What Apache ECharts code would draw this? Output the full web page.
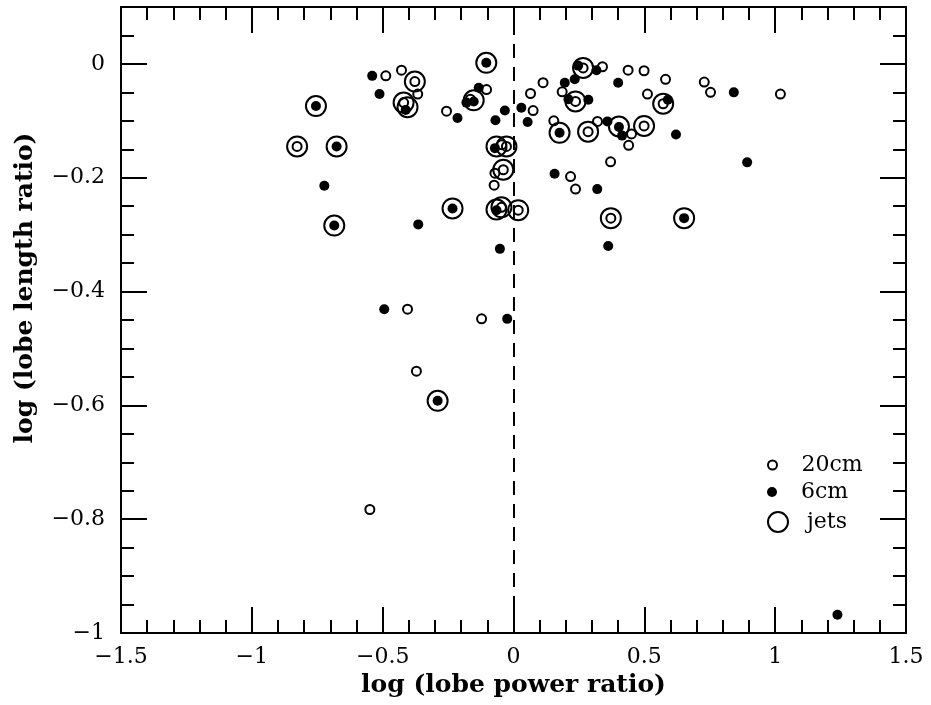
<!DOCTYPE html>
<html>
<head>
<meta charset="utf-8">
<script src="https://cdn.jsdelivr.net/npm/echarts@6/dist/echarts.min.js"></script>
<style>html,body{margin:0;padding:0;background:#fff}#c{width:931px;height:705px}</style>
</head>
<body>
<div id="c"></div>
<script>
// log(lobe power ratio), log(lobe length ratio)
const pts20cm = [
  [-0.549,-0.783],[-0.405,-0.431],[-0.371,-0.540],[-0.122,-0.448],
  [-0.488,-0.021],[-0.428,-0.011],[-0.377,-0.031],[-0.366,-0.053],[-0.420,-0.068],
  [-0.256,-0.083],[-0.103,-0.045],[-0.165,-0.062],[-0.827,-0.145],
  [-0.045,-0.142],[-0.027,-0.145],[-0.039,-0.186],[-0.071,-0.192],[-0.074,-0.213],
  [-0.046,-0.252],[0.018,-0.257],
  [0.266,-0.007],[0.340,-0.005],[0.438,-0.011],[0.499,-0.012],[0.581,-0.027],
  [0.729,-0.032],[0.753,-0.050],[1.020,-0.053],[0.113,-0.033],[0.065,-0.052],
  [0.186,-0.049],[0.237,-0.066],[0.512,-0.053],[0.572,-0.070],[0.075,-0.082],
  [0.154,-0.100],[0.285,-0.119],[0.321,-0.101],[0.451,-0.123],[0.499,-0.109],
  [0.440,-0.143],[0.371,-0.172],[0.218,-0.198],[0.237,-0.220],[0.372,-0.271]
];
const pts6cm = [
  [-0.540,-0.021],[-0.512,-0.053],[-0.755,-0.074],[-0.676,-0.145],[-0.723,-0.214],
  [-0.685,-0.284],[-0.364,-0.282],[-0.412,-0.081],[-0.214,-0.095],[-0.133,-0.042],
  [-0.180,-0.068],[-0.152,-0.066],[-0.104,0.002],[-0.033,-0.082],[-0.069,-0.099],
  [-0.071,-0.148],[-0.065,-0.257],[-0.233,-0.254],[-0.052,-0.325],[-0.494,-0.431],
  [-0.024,-0.448],[-0.290,-0.592],
  [0.030,-0.077],[0.054,-0.102],[0.247,-0.003],[0.317,-0.011],[0.400,-0.033],
  [0.234,-0.027],[0.196,-0.033],[0.210,-0.062],[0.286,-0.063],[0.590,-0.063],
  [0.842,-0.050],[0.176,-0.121],[0.359,-0.101],[0.403,-0.111],[0.415,-0.126],
  [0.621,-0.124],[0.893,-0.173],[0.157,-0.193],[0.320,-0.220],[0.652,-0.271],
  [0.362,-0.320],[1.238,-0.968]
];
const ptsJets = [
  [-0.755,-0.074],[-0.827,-0.145],[-0.676,-0.145],[-0.685,-0.284],[-0.377,-0.031],
  [-0.420,-0.068],[-0.405,-0.076],[-0.152,-0.064],[-0.104,0.002],[-0.065,-0.145],
  [-0.027,-0.145],[-0.039,-0.186],[-0.065,-0.256],[-0.046,-0.252],[0.018,-0.257],
  [-0.233,-0.254],[-0.290,-0.592],[0.266,-0.007],[0.237,-0.066],[0.572,-0.070],
  [0.176,-0.121],[0.285,-0.119],[0.403,-0.110],[0.499,-0.109],[0.372,-0.271],
  [0.652,-0.271]
];
const xTicks = [-1.5,-1,-0.5,0,0.5,1,1.5];
const yTicks = [-1,-0.8,-0.6,-0.4,-0.2,0];
const xName = 'log (lobe power ratio)';
const yName = 'log (lobe length ratio)';
const legendNames = ['20cm','6cm','jets'];

const FONT = 'DejaVu Serif';
const fmt = v => {
  const r = Math.round(v*1000)/1000;
  return String(r).replace('-', '\u2212');
};
const lineStyle = {color:'#000', width:2};
function xAxisDef(pos, labels) {
  return {
    type:'value', position:pos, min:xTicks[0], max:xTicks[xTicks.length-1], interval:0.5,
    axisLine:{show:true, onZero:false, lineStyle},
    axisTick:{show:true, inside:true, length:26, lineStyle},
    minorTick:{show:true, splitNumber:5, length:13, lineStyle},
    splitLine:{show:false}, minorSplitLine:{show:false},
    axisLabel:{show:labels, margin:13, fontFamily:FONT, fontSize:22, color:'#000', formatter:fmt},
    name: labels ? xName : '', nameLocation:'middle', nameGap:37,
    nameTextStyle:{fontFamily:FONT, fontSize:25, fontWeight:'bold', color:'#000'}
  };
}
function yAxisDef(pos, major, labels) {
  return {
    type:'value', position:pos, min:yTicks[0], max:0.1, interval: major ? 0.2 : 0.05,
    axisLine:{show:major, onZero:false, lineStyle},
    axisTick:{show:true, inside:true, length: major ? 26 : 13, lineStyle},
    splitLine:{show:false},
    axisLabel:{show:labels, showMaxLabel:false, margin:16, fontFamily:FONT, fontSize:22, color:'#000',
      formatter: v => (Math.abs(v) < 0.0001 ? '0' : (v > 0.05 ? '' : fmt(v)))},
    name: labels ? yName : '', nameLocation:'middle', nameGap:83,
    nameTextStyle:{fontFamily:FONT, fontSize:25, fontWeight:'bold', color:'#000', padding:[0,0,0,64]}
  };
}
const chart = echarts.init(document.getElementById('c'));
const openStyle = {color:'rgba(0,0,0,0)', borderColor:'#000', borderWidth:2, opacity:1};
const legText = {fontFamily:FONT, fontSize:22, color:'#000'};
chart.setOption({
  animation:false,
  backgroundColor:'#fff',
  grid:{left:121, right:25, top:7, bottom:72},
  xAxis:[xAxisDef('bottom', true), xAxisDef('top', false)],
  yAxis:[yAxisDef('left', true, true), yAxisDef('left', false, false),
         yAxisDef('right', true, false), yAxisDef('right', false, false)],
  legend:[
    {data:[legendNames[0]], left:762, top:449, itemWidth:48, itemHeight:9, itemGap:0,
     textStyle:legText, selectedMode:false},
    {data:[legendNames[1]], left:762, top:476, itemWidth:48, itemHeight:10, itemGap:0,
     textStyle:legText, selectedMode:false},
    {data:[legendNames[2]], left:762, top:506, itemWidth:48, itemHeight:20, itemGap:0,
     textStyle:legText, selectedMode:false}
  ],
  series:[
    {name:legendNames[0], type:'scatter', symbol:'circle', symbolSize:9, data:pts20cm,
     itemStyle:openStyle,
     markLine:{silent:true, symbol:'none', label:{show:false},
       lineStyle:{color:'#000', width:2, type:[14,9], opacity:1}, data:[{xAxis:0}]}},
    {name:legendNames[1], type:'scatter', symbol:'circle', symbolSize:10, data:pts6cm,
     itemStyle:{color:'#000', opacity:1}},
    {name:legendNames[2], type:'scatter', symbol:'circle', symbolSize:20, data:ptsJets,
     itemStyle:openStyle}
  ]
});
</script>
</body>
</html>
